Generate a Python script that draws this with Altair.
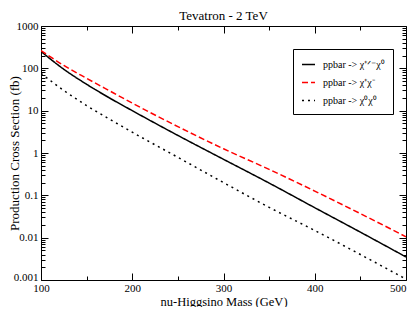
import altair as alt
import pandas as pd

mass = [100, 125, 150, 175, 200, 250, 300, 350, 400, 450, 500]
chi_pm_chi0 = [251, 95, 42, 20, 10, 2.6, 0.71, 0.195, 0.051, 0.0135, 0.0035]
chi_p_chi_m = [263, 117, 58, 29.5, 15.1, 4.2, 1.26, 0.41, 0.126, 0.037, 0.0105]
chi0_chi0 = [76, 30, 13.2, 6.3, 3.1, 0.79, 0.20, 0.052, 0.0148, 0.004, 0.00105]

series_names = ["ppbar -> χ⁺ᐟ⁻χ⁰", "ppbar -> χ⁺χ⁻", "ppbar -> χ⁰χ⁰"]
series_values = [chi_pm_chi0, chi_p_chi_m, chi0_chi0]
series_colors = ["#000000", "#ff0000", "#000000"]
series_dash = [[1, 0], [6, 3], [2, 4]]

chart_title = ["Tevatron - 2 TeV"]

x_major = [100, 200, 300, 400, 500]
x_minor = [150, 250, 350, 450]
y_major = [0.001, 0.01, 0.1, 1, 10, 100, 1000]
y_minor = [m * d for d in [0.001, 0.01, 0.1, 1, 10, 100] for m in range(2, 10)]

rows = []
for name, vals in zip(series_names, series_values):
    for m, v in zip(mass, vals):
        rows.append({"mass": m, "xsec": v, "series": name})
df = pd.DataFrame(rows)

W, H = 365, 254
FONT = "Liberation Serif"

xscale = alt.Scale(domain=[100, 500], nice=False, zero=False)
yscale = alt.Scale(type="log", domain=[0.001, 1000], nice=False)

def tick_axis(orient, values, size, offset):
    return alt.Axis(orient=orient, values=values, tickSize=size, offset=offset,
                    labels=False, domain=False, grid=False, title=None,
                    tickColor="black", tickWidth=1)

legend = alt.Legend(title=None, orient="none", legendX=252, legendY=23)

lines = alt.Chart(df).mark_line(strokeWidth=1.5, interpolate="monotone", clip=True).encode(
    x=alt.X("mass:Q", scale=xscale,
            axis=alt.Axis(orient="bottom", values=x_major, tickSize=0, domain=False, grid=False,
                          title="nu-Higgsino Mass (GeV)", labelFont=FONT, labelFontSize=11,
                          titleFont=FONT, titleFontSize=12.5, titleFontWeight="normal",
                          labelPadding=2, titleBaseline="alphabetic", titleY=25,
                          labelColor="black", titleColor="black", labelFlush=False,
                          labelAlign={"condition": {"test": "datum.value >= 500", "value": "right"},
                                      "value": "center"})),
    y=alt.Y("xsec:Q", scale=yscale,
            axis=alt.Axis(orient="left", values=y_major, tickSize=0, domain=False, grid=False,
                          format="~g", title="Production Cross Section (fb)", labelFont=FONT,
                          labelFontSize=11, titleFont=FONT, titleFontSize=13,
                          titleFontWeight="normal", labelPadding=3, titleBaseline="alphabetic",
                          titleX=-23, labelColor="black", titleColor="black", labelFlush=False,
                          labelOffset={"condition": {"test": "datum.value <= 0.001", "value": -3},
                                       "value": 0})),
    color=alt.Color("series:N", scale=alt.Scale(domain=series_names, range=series_colors),
                    legend=legend),
    strokeDash=alt.StrokeDash("series:N", scale=alt.Scale(domain=series_names, range=series_dash),
                              legend=legend),
)

def ghost(xaxis, yaxis):
    return alt.Chart(df).mark_point(opacity=0).encode(
        x=alt.X("mass:Q", scale=xscale, axis=xaxis),
        y=alt.Y("xsec:Q", scale=yscale, axis=yaxis),
    )

title_layer = alt.Chart(pd.DataFrame({"t": chart_title})).mark_text(
    font=FONT, fontSize=13, baseline="alphabetic", align="center", color="black"
).encode(text="t:N", x=alt.value(W / 2), y=alt.value(-6))

layers = [
    lines,
    ghost(tick_axis("top", x_major, 7, -H), tick_axis("right", y_major, 7, -W)),
    ghost(tick_axis("bottom", x_major, 7, -H), tick_axis("left", y_major, 7, -W)),
    ghost(tick_axis("top", x_minor, 4, -H), tick_axis("right", y_minor, 4, -W)),
    ghost(tick_axis("bottom", x_minor, 4, -H), tick_axis("left", y_minor, 4, -W)),
    title_layer,
]

chart = alt.layer(*layers).resolve_axis(x="independent", y="independent").properties(
    width=W, height=H,
    autosize=alt.AutoSizeParams(type="none"),
    padding={"left": 33, "top": 18, "right": 1, "bottom": 27},
).configure_view(stroke="black", strokeWidth=1).configure_legend(
    strokeColor="black", fillColor="white", padding=8, cornerRadius=0,
    symbolType="stroke", symbolSize=169, symbolStrokeWidth=1.5, labelFont=FONT,
    labelFontSize=10, labelColor="black", labelOffset=7, rowPadding=5,
)

chart.save("out.html", embed_options={"renderer": "svg", "actions": False})
